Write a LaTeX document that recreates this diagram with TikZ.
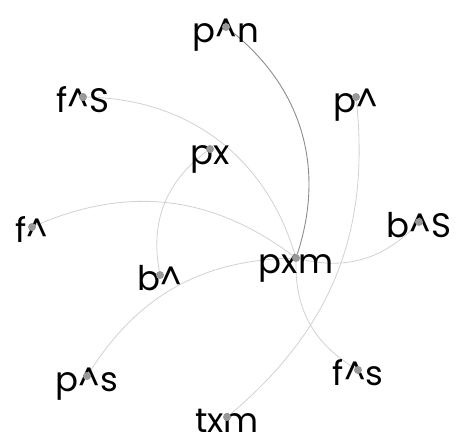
\documentclass[tikz,border=0pt]{standalone}
\usepackage{fontspec}
\setmainfont{Poppins}
\usetikzlibrary{backgrounds}

\begin{document}
\begin{tikzpicture}[x=1pt,y=-1pt,
lbl/.style={anchor=base,yshift=-15pt,inner sep=0pt,font=\fontsize{34}{36}\selectfont},
pt/.style={circle,fill=black!40,inner sep=0pt,minimum size=8pt},
link/.style={draw=black!18,line width=0.8pt},
strong/.style={draw=black!45,line width=0.9pt}]
\useasboundingbox (0,0) rectangle (462,431);
% labels
\node[lbl] (pn-l) at (226,27) {p\textasciicircum n};
\node[lbl] (fS-l) at (83,97) {f\textasciicircum S};
\node[lbl] (ph-l) at (356,97) {p\textasciicircum};
\node[lbl] (px-l) at (210,149) {px};
\node[lbl] (fh-l) at (32,227) {f\textasciicircum};
\node[lbl] (bS-l) at (419,222) {b\textasciicircum S};
\node[lbl] (bh-l) at (160,275) {b\textasciicircum};
\node[lbl] (pxm-l) at (296,258) {pxm};
\node[lbl] (ps-l) at (87,376) {p\textasciicircum s};
\node[lbl] (fs-l) at (358,370) {f\textasciicircum s};
\node[lbl] (txm-l) at (227,417) {txm};
% dots
\node[pt] (pn) at (226,27) {};
\node[pt] (fS) at (83,97) {};
\node[pt] (ph) at (356,97) {};
\node[pt] (px) at (210,149) {};
\node[pt] (fh) at (32,227) {};
\node[pt] (bS) at (419,222) {};
\node[pt] (bh) at (160,275) {};
\node[pt] (pxm) at (296,258) {};
\node[pt] (ps) at (87,376) {};
\node[pt] (fs) at (358,370) {};
\node[pt] (txm) at (227,417) {};
% links
\begin{scope}[on background layer]
\draw[strong] (pxm) to[bend right=35] (pn);
\draw[link] (fS) to[bend left=36] (pxm);
\draw[link] (fh) to[bend left=30] (pxm);
\draw[link] (pxm) to[bend right=30] (bS);
\draw[link] (ps) to[bend left=28] (pxm);
\draw[link] (pxm) to[bend right=30] (fs);
\draw[link] (ph) to[bend left=28] (txm);
\draw[link] (px) to[bend right=32] (bh);
\end{scope}
\end{tikzpicture}
\end{document}
